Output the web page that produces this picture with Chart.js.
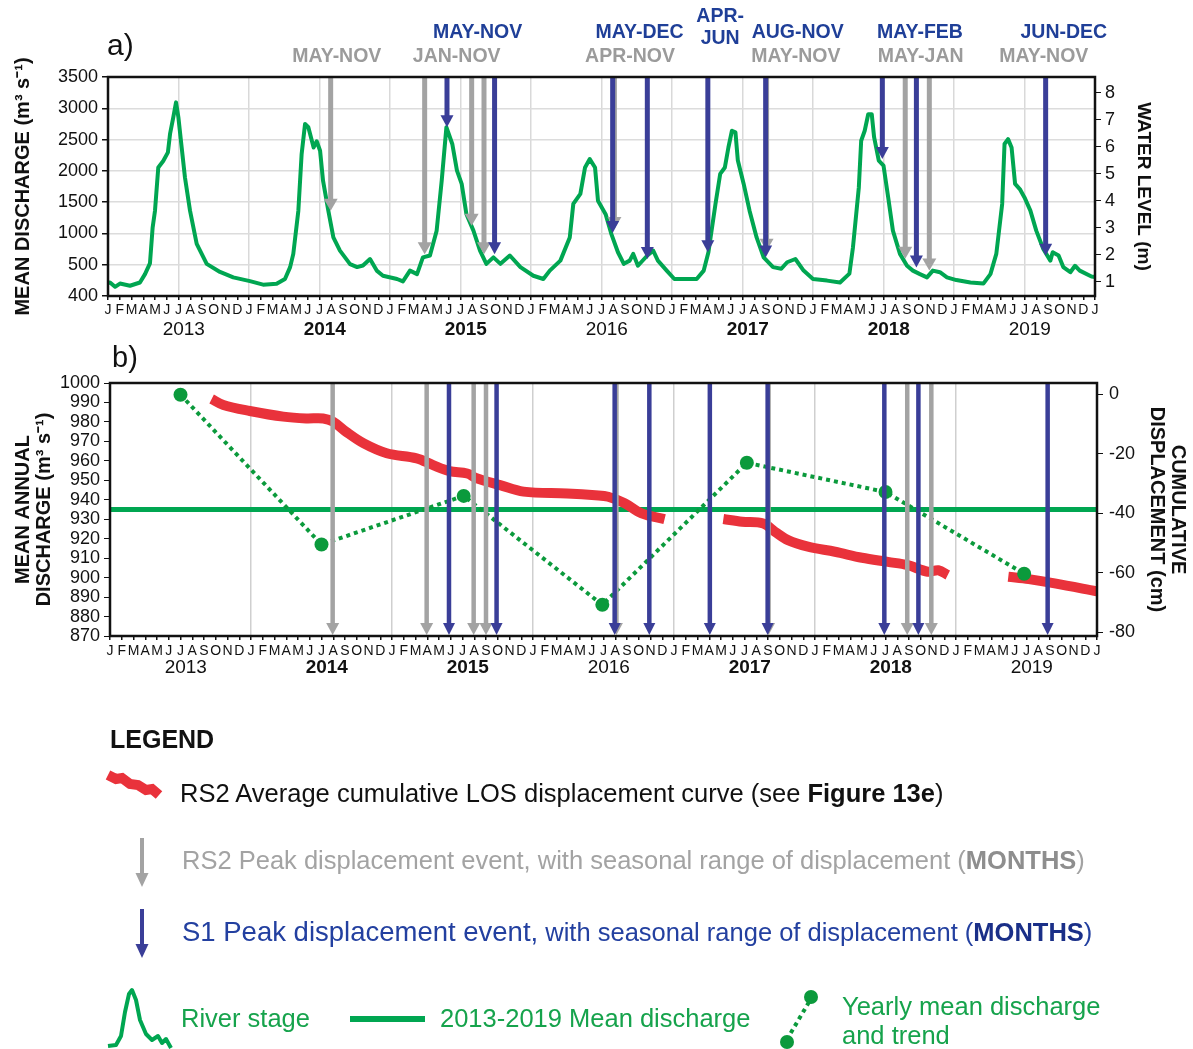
<!DOCTYPE html>
<html lang="en">
  <head>
    <meta charset="UTF-8" />
    <title>River stage, mean discharge and displacement events 2013-2019</title>
    <script src="https://cdn.jsdelivr.net/npm/chart.js@4"></script>
    <style>
      body {
        margin: 0;
        background: #fff;
        font-family: "Liberation Sans", Arial, sans-serif;
      }
      #page {
        position: relative;
        width: 1193px;
        height: 1049px;
        overflow: hidden;
      }
      canvas {
        position: absolute;
        left: 0;
      }
      #chartA { top: 0; }
      #chartB { top: 345px; }
      .txt {
        position: absolute;
        white-space: nowrap;
        line-height: 1;
        font-size: 25.5px;
      }
      #icons {
        position: absolute;
        left: 0;
        top: 0;
      }
    </style>
  </head>
  <body>
    <div id="page">
      <canvas id="chartA" width="1193" height="345"></canvas>
      <canvas id="chartB" width="1193" height="355"></canvas>

      <div class="txt" style="left:107px; top:30px; font-size:30px; color:#111">a)</div>
      <div class="txt" style="left:112px; top:343px; font-size:29px; color:#111">b)</div>

      <!-- legend -->
      <svg id="icons" width="1193" height="1049">
        <polyline points="108,775 116,779 122,778 130,784 138,785 146,790 152,789 159,795"
          fill="none" stroke="#e9323b" stroke-width="10" />
        <line x1="142" y1="838" x2="142" y2="874" stroke="#a3a3a3" stroke-width="4" />
        <polygon points="135.5,873 148.5,873 142,887" fill="#a3a3a3" />
        <line x1="142" y1="909" x2="142" y2="945" stroke="#3a3e98" stroke-width="4" />
        <polygon points="135.5,944 148.5,944 142,958" fill="#3a3e98" />
        <polyline points="108,1046 116,1045 121,1036 125,1012 129,994 132,990 136,1000 140,1020 146,1034 152,1040 158,1036 162,1043 166,1039 171,1048"
          fill="none" stroke="#00a651" stroke-width="4" stroke-linejoin="round" />
        <line x1="350" y1="1019" x2="425" y2="1019" stroke="#00a651" stroke-width="6" />
        <line x1="809" y1="1002" x2="789" y2="1036" stroke="#0b9a3c" stroke-width="4" stroke-dasharray="4 4" />
        <circle cx="811" cy="997" r="7" fill="#0b9a3c" />
        <circle cx="787" cy="1042" r="7" fill="#0b9a3c" />
      </svg>
      <div class="txt" style="left:110px; top:727px; font-size:25px; font-weight:bold; color:#111">LEGEND</div>
      <div class="txt" style="left:180px; top:781px; color:#111">
        RS2 Average cumulative LOS displacement curve (see <b>Figure 13e</b>)
      </div>
      <div class="txt" style="left:182px; top:848px; color:#a3a3a3">
        RS2 Peak displacement event, with seasonal range of displacement (<b style="color:#8e8e8e">MONTHS</b>)
      </div>
      <div class="txt" style="left:182px; top:918px; color:#2340a0">
        <span style="font-size:27.5px">S1 Peak displacement event,</span> with seasonal range of displacement (<b style="color:#1a2f88">MONTHS</b>)
      </div>
      <div class="txt" style="left:181px; top:1006px; color:#16a34c">River stage</div>
      <div class="txt" style="left:440px; top:1006px; color:#16a34c">2013-2019 Mean discharge</div>
      <div class="txt" style="left:842px; top:994px; color:#16a34c">Yearly mean discharge</div>
      <div class="txt" style="left:842px; top:1023px; color:#16a34c">and trend</div>
    </div>

    <script>
      // ---- data (months counted from Jan 2013) ----
      const monthLetters = ["J", "F", "M", "A", "M", "J", "J", "A", "S", "O", "N", "D"];
      const years = ["2013", "2014", "2015", "2016", "2017", "2018", "2019"];
      const yearBold = [false, true, true, false, true, true, false];
      const dischargeTicks = [400, 500, 1000, 1500, 2000, 2500, 3000, 3500];
      const levelTicks = [1, 2, 3, 4, 5, 6, 7, 8];
      const displacementTicks = [-80, -60, -40, -20, 0];

      // river stage (water level, m)
      const stageMonth = [0, 0.17, 0.6, 1.02, 1.87, 2.72, 3.15, 3.57, 3.8, 4.0,
        4.28, 4.7, 5.1, 5.28, 5.56, 5.79, 5.99, 6.27, 6.55, 6.98,
        7.55, 8.4, 9.53, 10.66, 12.08, 13.2, 14.35, 15.06, 15.5, 15.77,
        16.2, 16.48, 16.77, 17.05, 17.5, 17.76, 18.05, 18.3, 18.75, 19.18,
        19.74, 20.6, 21.2, 21.7, 22.3, 22.87, 23.4, 24.6, 25.1, 25.7,
        26.3, 26.8, 27.4, 27.97, 28.4, 28.8, 29.3, 29.7, 30.1, 30.5,
        31.1, 31.66, 32.2, 32.8, 33.4, 34.2, 35.1, 36.2, 37.05, 37.6,
        38.5, 39.3, 39.6, 40.2, 40.6, 41.0, 41.45, 41.7, 42.35, 42.85,
        43.4, 43.9, 44.4, 44.7, 45.1, 45.9, 46.4, 46.8, 47.55, 48.2,
        49.2, 50.1, 50.7, 51.1, 51.7, 52.1, 52.5, 52.8, 53.1, 53.4,
        53.6, 54.1, 54.6, 55.2, 55.8, 56.6, 57.3, 57.8, 58.5, 59.2,
        60.0, 61.2, 62.3, 63.1, 63.4, 63.9, 64.1, 64.4, 64.7, 65.0,
        65.2, 65.6, 66.0, 66.4, 66.8, 67.4, 68.0, 68.5, 69.1, 69.7,
        70.2, 70.8, 71.4, 72.2, 73.4, 74.5, 75.1, 75.6, 76.1, 76.3,
        76.6, 76.9, 77.2, 77.6, 78.0, 78.5, 79.0, 79.6, 80.2, 80.4,
        80.9, 81.3, 81.9, 82.3, 82.7, 83.7, 84];
      const stageLevel = [0.95, 0.97, 0.81, 0.93, 0.85, 0.97, 1.28, 1.68, 3.01, 3.63,
        5.23, 5.47, 5.79, 6.47, 7.09, 7.64, 7.09, 5.97, 4.86, 3.63,
        2.4, 1.66, 1.36, 1.16, 1.02, 0.89, 0.92, 1.1, 1.54, 2.03,
        3.63, 5.73, 6.84, 6.72, 5.97, 6.2, 5.85, 4.74, 3.63, 2.64,
        2.15, 1.65, 1.54, 1.6, 1.84, 1.41, 1.22, 1.1, 1.01, 1.41,
        1.28, 1.9, 1.97, 2.89, 4.74, 6.72, 6.1, 5.11, 4.62, 3.51,
        2.89, 2.15, 1.66, 1.9, 1.66, 1.97, 1.54, 1.22, 1.1, 1.41,
        1.78, 2.64, 3.88, 4.25, 5.23, 5.54, 5.23, 4.0, 3.5, 2.75,
        2.09, 1.66, 1.78, 2.03, 1.59, 1.97, 2.15, 1.78, 1.41, 1.1,
        1.1, 1.1, 1.41, 2.09, 3.88, 4.99, 5.23, 5.97, 6.59, 6.53,
        5.5, 4.62, 3.63, 2.64, 1.9, 1.54, 1.48, 1.72, 1.84, 1.41,
        1.1, 1.04, 0.97, 1.3, 2.27, 4.49, 6.22, 6.59, 7.2, 7.2,
        6.35, 5.48, 5.3, 4.12, 2.89, 2.03, 1.59, 1.41, 1.28, 1.16,
        1.41, 1.35, 1.16, 1.06, 0.97, 0.93, 1.28, 2.03, 3.88, 6.1,
        6.28, 5.97, 4.62, 4.43, 4.12, 3.63, 2.89, 2.21, 1.78, 2.09,
        1.97, 1.54, 1.35, 1.59, 1.41, 1.19, 1.17];

      // peak displacement events: month, and arrow tip on the stage curve (m)
      const rs2Month = [18.95, 26.95, 30.95, 32.0, 43.1, 56.05, 67.85, 69.9];
      const rs2Tip = [3.63, 2.02, 3.07, 2.02, 2.95, 2.15, 1.85, 1.41];
      const s1Month = [28.85, 32.9, 42.95, 45.9, 51.05, 55.97, 65.9, 68.8, 79.8];
      const s1Tip = [6.72, 2.02, 2.8, 1.84, 2.09, 1.9, 5.54, 1.53, 1.96];

      // seasonal ranges written above panel a
      const rs2RangeText = ["MAY-NOV", "JAN-NOV", "APR-NOV", "MAY-NOV", "MAY-JAN", "MAY-NOV"];
      const rs2RangeAt = [19.47, 29.68, 44.43, 58.54, 69.16, 79.64];
      const s1RangeText = ["MAY-NOV", "MAY-DEC", "APR-\nJUN", "AUG-NOV", "MAY-FEB", "JUN-DEC"];
      const s1RangeAt = [31.46, 45.24, 52.1, 58.7, 69.1, 81.35];

      // panel b
      const meanDischarge = 935;
      const yearlyMonth = [6.0, 18.0, 30.1, 41.9, 54.2, 66.0, 77.8];
      const yearlyDischarge = [994, 917, 942, 886, 959, 944, 902];
      const dispMonth = [8.65, 9.65, 11.9, 14.75, 16.7, 18.15, 19.0, 20.1, 21.6, 23.55,
        26.1, 27.5, 28.9, 30.4, 31.2, 33.2, 35.2, 38.9, 41.3, 42.4, 43.8, 45.25, 47.2,
        49.7,
        52.2, 53.8, 55.6, 56.6, 57.7, 59.4, 61.7, 64.0, 66.2, 67.9, 69.6, 70.5, 71.3,
        73.9,
        76.45, 78.2, 80.4, 84];
      const dispCm = [-1.7, -3.7, -5.7, -7.6, -8.2, -8.2, -9.3, -12.7, -16.6, -19.9,
        -21.6, -23.9, -25.9, -26.7, -28.3, -30.6, -32.8, -33.4, -34.0, -34.5, -36.7, -40.1, -42.0,
        null,
        -42.0, -42.9, -43.5, -46.3, -49.1, -51.3, -53.0, -55.0, -56.4, -57.5, -59.7, -59.2, -60.8,
        null,
        -61.4, -62.2, -63.6, -66.3];

      // ---- styling ----
      const FONT = '"Liberation Sans", Arial, sans-serif';
      const GREEN = "#00a651";
      const DOT_GREEN = "#0b9a3c";
      const RED = "#e9323b";
      const BLUE = "#3a3e98";
      const GRAY = "#a3a3a3";
      const BLUE_TEXT = "#1f3f98";
      const GRAY_TEXT = "#9b9b9b";

      Chart.defaults.font.family = FONT;
      Chart.defaults.color = "#111";

      const pts = (xs, ys) => xs.map((x, i) => ({ x: x, y: ys[i] }));

      const frame = {
        id: "frame",
        afterDraw(chart) {
          const { ctx, chartArea: a } = chart;
          ctx.save();
          ctx.strokeStyle = "#111";
          ctx.lineWidth = 2.5;
          ctx.strokeRect(a.left, a.top, a.right - a.left, a.bottom - a.top);
          ctx.restore();
        },
      };

      function yearRow(offset) {
        return {
          id: "years",
          afterDraw(chart) {
            const { ctx, chartArea, scales } = chart;
            ctx.save();
            ctx.fillStyle = "#111";
            ctx.textAlign = "center";
            ctx.textBaseline = "middle";
            years.forEach((yr, i) => {
              ctx.font = (yearBold[i] ? "bold " : "") + "19px " + FONT;
              ctx.fillText(yr, scales.x.getPixelForValue(i * 12 + 6.45), chartArea.bottom + offset);
            });
            ctx.restore();
          },
        };
      }

      function drawArrow(ctx, x, top, tip, color, lw, headW, headH) {
        ctx.strokeStyle = color;
        ctx.fillStyle = color;
        ctx.lineWidth = lw;
        ctx.beginPath();
        ctx.moveTo(x, top);
        ctx.lineTo(x, tip - headH + 1);
        ctx.stroke();
        ctx.beginPath();
        ctx.moveTo(x - headW / 2, tip - headH);
        ctx.lineTo(x + headW / 2, tip - headH);
        ctx.lineTo(x, tip);
        ctx.closePath();
        ctx.fill();
      }

      // panel a: arrows end on the river stage curve
      const stageArrows = {
        id: "stageArrows",
        afterDatasetsDraw(chart) {
          const { ctx, chartArea, scales } = chart;
          ctx.save();
          rs2Month.forEach((m, i) =>
            drawArrow(ctx, scales.x.getPixelForValue(m), chartArea.top,
              scales.y2.getPixelForValue(rs2Tip[i]), GRAY, 5, 14, 12));
          s1Month.forEach((m, i) =>
            drawArrow(ctx, scales.x.getPixelForValue(m), chartArea.top,
              scales.y2.getPixelForValue(s1Tip[i]), BLUE, 5, 13, 12));
          ctx.restore();
        },
      };

      // panel a: month ranges above the plot
      const rangeLabels = {
        id: "rangeLabels",
        afterDraw(chart) {
          const { ctx, scales } = chart;
          ctx.save();
          ctx.font = "bold 19.5px " + FONT;
          ctx.textAlign = "center";
          ctx.textBaseline = "middle";
          ctx.fillStyle = GRAY_TEXT;
          rs2RangeText.forEach((t, i) => ctx.fillText(t, scales.x.getPixelForValue(rs2RangeAt[i]), 57));
          ctx.fillStyle = BLUE_TEXT;
          s1RangeText.forEach((t, i) => {
            const x = scales.x.getPixelForValue(s1RangeAt[i]);
            const lines = t.split("\n");
            if (lines.length > 1) {
              ctx.fillText(lines[0], x, 16.5);
              ctx.fillText(lines[1], x, 38.5);
            } else {
              ctx.fillText(t, x, 32.5);
            }
          });
          ctx.restore();
        },
      };

      // panel b: full height event arrows
      const eventArrows = {
        id: "eventArrows",
        afterDatasetsDraw(chart) {
          const { ctx, chartArea, scales } = chart;
          ctx.save();
          rs2Month.forEach((m) =>
            drawArrow(ctx, scales.x.getPixelForValue(m), chartArea.top, chartArea.bottom - 1, GRAY, 4.5, 13, 12));
          s1Month.forEach((m) =>
            drawArrow(ctx, scales.x.getPixelForValue(m), chartArea.top, chartArea.bottom - 1, BLUE, 4.5, 12, 12));
          ctx.restore();
        },
      };

      function monthAxis(height, gridEvery, gridColor, pad) {
        return {
          type: "linear",
          position: "bottom",
          min: 0,
          max: 84,
          afterFit: (s) => { s.height = height; },
          ticks: {
            stepSize: 1,
            autoSkip: false,
            maxRotation: 0,
            padding: pad,
            font: { size: 14 },
            callback: (v) => monthLetters[v % 12],
          },
          grid: {
            color: (c) => (c.tick && c.tick.value % gridEvery === 0 ? gridColor : "rgba(0,0,0,0)"),
            lineWidth: 1.5,
            tickColor: "#111",
            tickLength: 4,
          },
          border: { display: false },
        };
      }

      // ---- panel a ----
      new Chart(document.getElementById("chartA"), {
        type: "line",
        data: {
          datasets: [
            {
              label: "River stage",
              data: pts(stageMonth, stageLevel),
              yAxisID: "y2",
              borderColor: GREEN,
              borderWidth: 4,
              pointRadius: 0,
              tension: 0,
              borderJoinStyle: "round",
            },
          ],
        },
        options: {
          responsive: false,
          animation: false,
          layout: { padding: { top: 77, left: 0, right: 0, bottom: 0 } },
          plugins: { legend: { display: false }, tooltip: { enabled: false } },
          scales: {
            x: monthAxis(49, 6, "#d9d9d9", 2),
            y: {
              position: "left",
              min: 0,
              max: 7,
              afterFit: (s) => { s.width = 108; },
              ticks: {
                stepSize: 1,
                autoSkip: false,
                padding: 4,
                font: { size: 18 },
                callback: (v) => String(dischargeTicks[v]),
              },
              grid: { color: "#dcdcdc", lineWidth: 1.5, tickColor: "#111", tickLength: 6 },
              border: { display: false },
              title: {
                display: true,
                text: "MEAN DISCHARGE (m³ s⁻¹)",
                font: { size: 20, weight: "bold" },
                padding: { top: 11, bottom: 0 },
              },
            },
            y2: {
              position: "right",
              min: 0.47,
              max: 8.58,
              afterBuildTicks: (s) => { s.ticks = levelTicks.map((v) => ({ value: v })); },
              afterFit: (s) => { s.width = 98; },
              ticks: { autoSkip: false, padding: 4, font: { size: 18 }, callback: (v) => String(v) },
              grid: { drawOnChartArea: false, tickColor: "#111", tickLength: 6 },
              border: { display: false },
              title: {
                display: true,
                text: "WATER LEVEL (m)",
                font: { size: 19, weight: "bold" },
                padding: { top: 38, bottom: 0 },
              },
            },
          },
        },
        plugins: [stageArrows, frame, rangeLabels, yearRow(33.3)],
      });

      // ---- panel b ----
      new Chart(document.getElementById("chartB"), {
        type: "line",
        data: {
          datasets: [
            {
              label: "Yearly mean discharge and trend",
              data: pts(yearlyMonth, yearlyDischarge),
              yAxisID: "y",
              borderColor: DOT_GREEN,
              borderWidth: 4,
              borderDash: [4, 4],
              pointRadius: 7,
              pointBackgroundColor: DOT_GREEN,
              pointBorderWidth: 0,
              order: 1,
            },
            {
              label: "RS2 Average cumulative LOS displacement",
              data: pts(dispMonth, dispCm),
              yAxisID: "y2",
              borderColor: RED,
              borderWidth: 10,
              pointRadius: 0,
              tension: 0.35,
              spanGaps: false,
              borderCapStyle: "butt",
              order: 2,
            },
            {
              label: "2013-2019 Mean discharge",
              data: [{ x: 0, y: meanDischarge }, { x: 84, y: meanDischarge }],
              yAxisID: "y",
              borderColor: GREEN,
              borderWidth: 5,
              pointRadius: 0,
              order: 3,
            },
          ],
        },
        options: {
          responsive: false,
          animation: false,
          layout: { padding: { top: 38, left: 0, right: 0, bottom: 0 } },
          plugins: { legend: { display: false }, tooltip: { enabled: false } },
          scales: {
            x: monthAxis(64, 12, "#cfcfcf", 3),
            y: {
              position: "left",
              min: 870,
              max: 1000,
              afterFit: (s) => { s.width = 110; },
              ticks: { stepSize: 10, autoSkip: false, padding: 4, font: { size: 18 }, callback: (v) => String(v) },
              grid: { drawOnChartArea: false, tickColor: "#111", tickLength: 6 },
              border: { display: false },
              title: {
                display: true,
                text: ["MEAN ANNUAL", "DISCHARGE (m³ s⁻¹)"],
                font: { size: 20, weight: "bold", lineHeight: 1.05 },
                padding: { top: 12.5, bottom: 0 },
              },
            },
            y2: {
              position: "right",
              min: -81.3,
              max: 3.7,
              afterBuildTicks: (s) => { s.ticks = displacementTicks.map((v) => ({ value: v })); },
              afterFit: (s) => { s.width = 96; },
              ticks: { autoSkip: false, padding: 6, font: { size: 18 }, callback: (v) => String(v) },
              grid: { drawOnChartArea: false, tickColor: "#111", tickLength: 6 },
              border: { display: false },
              title: {
                display: true,
                text: ["CUMULATIVE", "DISPLACEMENT (cm)"],
                font: { size: 20, weight: "bold", lineHeight: 1.05 },
                padding: { top: 4.5, bottom: 0 },
              },
            },
          },
        },
        plugins: [eventArrows, frame, yearRow(31.5)],
      });
    </script>
  </body>
</html>
